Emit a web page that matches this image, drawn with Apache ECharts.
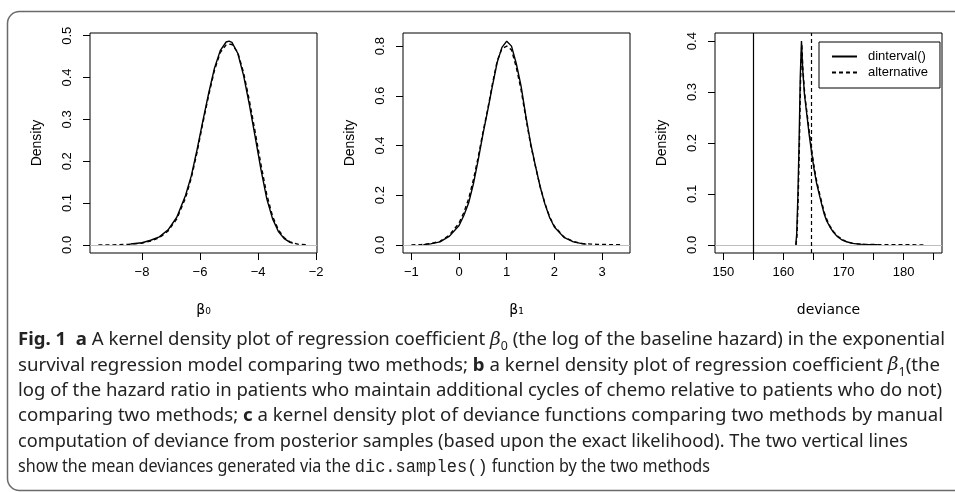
<!DOCTYPE html>
<html>
<head>
<meta charset="utf-8">
<script src="https://cdn.jsdelivr.net/npm/echarts@6/dist/echarts.min.js"></script>
<style>html,body{margin:0;padding:0;background:#fff;}#c{width:955px;height:492px;}</style>
</head>
<body>
<div id="c"></div>
<script>
// ---- data ----
const b0SolidX = [-8.4,-8.0,-7.7,-7.4,-7.1,-6.8,-6.5,-6.3,-6.1,-5.9,-5.7,-5.5,-5.3,-5.1,-5.0,-4.9,-4.7,-4.5,-4.3,-4.1,-3.9,-3.7,-3.5,-3.3,-3.1,-2.9,-2.8];
const b0SolidY = [0.002,0.005,0.011,0.019,0.036,0.066,0.118,0.165,0.228,0.297,0.363,0.423,0.465,0.485,0.487,0.484,0.458,0.405,0.335,0.258,0.180,0.110,0.062,0.032,0.015,0.006,0.004];
const b0AltX = [-9.5,-9.0,-8.5,-8.0,-7.7,-7.4,-7.1,-6.8,-6.5,-6.3,-6.1,-5.9,-5.7,-5.5,-5.3,-5.1,-5.0,-4.9,-4.7,-4.5,-4.3,-4.1,-3.9,-3.7,-3.5,-3.3,-3.1,-2.9,-2.6,-2.26];
const b0AltY = [0.000,0.000,0.001,0.004,0.009,0.017,0.033,0.062,0.112,0.160,0.222,0.292,0.358,0.418,0.460,0.478,0.480,0.479,0.460,0.412,0.345,0.270,0.192,0.120,0.068,0.036,0.017,0.007,0.001,0.000];

const b1SolidX = [-0.75,-0.6,-0.4,-0.2,0.0,0.1,0.2,0.3,0.4,0.5,0.6,0.7,0.8,0.9,1.0,1.1,1.2,1.3,1.4,1.5,1.6,1.7,1.8,1.9,2.0,2.2,2.4,2.6,2.67];
const b1SolidY = [0.001,0.004,0.012,0.035,0.078,0.118,0.168,0.245,0.340,0.445,0.540,0.640,0.735,0.795,0.820,0.800,0.730,0.640,0.520,0.410,0.320,0.235,0.165,0.110,0.072,0.030,0.012,0.004,0.003];
const b1AltX = [-1.0,-0.8,-0.6,-0.4,-0.2,0.0,0.1,0.2,0.3,0.4,0.5,0.6,0.7,0.8,0.9,1.0,1.1,1.2,1.3,1.4,1.5,1.6,1.7,1.8,1.9,2.0,2.2,2.4,2.6,2.9,3.41];
const b1AltY = [0.000,0.001,0.005,0.014,0.040,0.088,0.130,0.185,0.262,0.352,0.452,0.545,0.648,0.740,0.790,0.800,0.785,0.715,0.625,0.512,0.405,0.318,0.235,0.168,0.113,0.075,0.032,0.013,0.005,0.002,0.000];

const devSolidX = [162.05,162.2,162.4,162.6,162.8,163.0,163.2,163.5,163.9,164.3,164.7,165.1,165.5,166.0,166.4,166.8,167.2,167.7,168.3,169.0,169.7,170.5,171.5,172.5,173.5,175.7];
const devSolidY = [0.000,0.020,0.095,0.200,0.330,0.400,0.345,0.295,0.255,0.215,0.180,0.148,0.122,0.097,0.078,0.060,0.047,0.036,0.025,0.016,0.010,0.006,0.003,0.0015,0.001,0.0003];
const devAltX = [162.1,162.25,162.45,162.65,162.85,163.05,163.25,163.55,163.95,164.35,164.75,165.15,165.55,166.05,166.45,166.85,167.25,167.75,168.35,169.05,169.75,170.55,171.55,172.55,173.55,175,177,180,183.3];
const devAltY = [0.000,0.018,0.090,0.195,0.325,0.395,0.342,0.295,0.256,0.217,0.182,0.150,0.124,0.099,0.080,0.062,0.049,0.037,0.026,0.017,0.011,0.006,0.003,0.002,0.001,0.0006,0.0003,0.0001,0.0000];
const devXlim = [150, 185];
const meanDeviance = [155, 164.6];   // dinterval(), alternative

const b0Ticks = [-8,-6,-4,-2];
const b1Ticks = [-1,0,1,2,3];
const devTicks = [150,155,160,165,170,175,180,185];
const devLabels = [150,160,170,180];
const y1Ticks = [0,0.1,0.2,0.3,0.4,0.5];
const y2Ticks = [0,0.2,0.4,0.6,0.8];
const y3Ticks = [0,0.1,0.2,0.3,0.4];

const seriesNames = ['dinterval()', 'alternative'];
const xTitles = ['β₀', 'β₁', 'deviance'];

const captionLines = [
  [['bold','Fig. 1'],['n','  '],['bold','a'],['n',' A kernel density plot of regression coefficient '],['it','β'],['sub','0'],['n',' (the log of the baseline hazard) in the exponential']],
  [['n','survival regression model comparing two methods; '],['bold','b'],['n',' a kernel density plot of regression coefficient '],['it','β'],['sub','1'],['n','(the']],
  [['n','log of the hazard ratio in patients who maintain additional cycles of chemo relative to patients who do not)']],
  [['n','comparing two methods; '],['bold','c'],['n',' a kernel density plot of deviance functions comparing two methods by manual']],
  [['n','computation of deviance from posterior samples (based upon the exact likelihood). The two vertical lines']],
  [['n','show the mean deviances generated via the '],['mono','dic.samples()'],['n',' function by the two methods']]
];
const captionWidths = [927, 922, 924, 925, 890, 692];

// ---- helpers ----
function ext(a, b) { const r = b - a; return [a - 0.04 * r, b + 0.04 * r]; }
function zip(xs, ys) { return xs.map((x, i) => [x, ys[i]]); }
const minus = v => String(Math.round(v * 100) / 100).replace('-', '\u2212');

const xl1 = ext(Math.min(...b0AltX, ...b0SolidX), Math.max(...b0AltX, ...b0SolidX));
const xl2 = ext(Math.min(...b1AltX, ...b1SolidX), Math.max(...b1AltX, ...b1SolidX));
const xl3 = ext(devXlim[0], devXlim[1]);
const yl1 = ext(0, Math.max(...b0SolidY, ...b0AltY));
const yl2 = ext(0, Math.max(...b1SolidY, ...b1AltY));
const yl3 = ext(0, Math.max(...devSolidY, ...devAltY));

const FONT = 'Liberation Sans, Arial, Helvetica, sans-serif';
const lefts = [90, 403, 715];
const grids = lefts.map(l => ({ left: l, top: 33, width: 227, height: 220, show: true, borderColor: '#000', borderWidth: 1, backgroundColor: 'transparent' }));

function xAxis(i, lim, ticks, labels, fmt) {
  return {
    gridIndex: i, type: 'value', min: lim[0], max: lim[1], position: 'bottom',
    axisLine: { show: false, onZero: false }, splitLine: { show: false },
    axisTick: { show: true, length: 7, customValues: ticks, lineStyle: { color: '#000', width: 1 } },
    axisLabel: { customValues: labels, margin: 13, fontSize: 13, color: '#000', fontFamily: FONT, formatter: fmt },
    name: xTitles[i], nameLocation: 'middle', nameGap: 50,
    nameTextStyle: { fontSize: 14, color: '#000', fontFamily: 'DejaVu Sans, Liberation Sans, sans-serif' }
  };
}
function yAxis(i, lim, ticks) {
  return {
    gridIndex: i, type: 'value', min: lim[0], max: lim[1], position: 'left',
    axisLine: { show: false, onZero: false }, splitLine: { show: false },
    axisTick: { show: true, length: 7, customValues: ticks, lineStyle: { color: '#000', width: 1 } },
    axisLabel: { customValues: ticks, rotate: 90, margin: 16, fontSize: 13, color: '#000', fontFamily: FONT, formatter: v => v.toFixed(1) },
    name: 'Density', nameLocation: 'middle', nameGap: 46, nameRotate: 90,
    nameTextStyle: { fontSize: 14, color: '#000', fontFamily: FONT }
  };
}
const zeroLine = { silent: true, symbol: 'none', label: { show: false }, lineStyle: { color: '#bebebe', type: 'solid', width: 1 }, data: [{ yAxis: 0 }], animation: false };

function curve(name, i, xs, ys, dashed, extraMark) {
  return {
    type: 'line', name, xAxisIndex: i, yAxisIndex: i, data: zip(xs, ys),
    showSymbol: false, symbol: 'none', smooth: false, animation: false,
    lineStyle: { color: '#000', width: 1.4, type: dashed ? [4, 3] : 'solid' },
    itemStyle: { color: '#000' },
    markLine: extraMark || undefined
  };
}

// ---- caption via measured rich text ----
const cv = document.createElement('canvas').getContext('2d');
const CAP = { family: 'Noto Sans, Open Sans, sans-serif', size: 18, mono: 'Liberation Mono, DejaVu Sans Mono, monospace', monoSize: 19 };
function fontOf(s) {
  if (s === 'bold') return `bold ${CAP.size}px ${CAP.family}`;
  if (s === 'it') return `italic ${CAP.size}px DejaVu Serif, serif`;
  if (s === 'sub') return `${Math.round(CAP.size * 0.68)}px ${CAP.family}`;
  if (s === 'mono') return `${CAP.monoSize}px ${CAP.mono}`;
  return `${CAP.size}px ${CAP.family}`;
}
function lineWidth(segs) {
  let w = 0;
  segs.forEach(([s, t]) => { cv.font = fontOf(s); w += cv.measureText(t).width; });
  return w;
}
const rich = {
  n: { fontSize: CAP.size, fontFamily: CAP.family, fill: '#222', lineHeight: 26, verticalAlign: 'middle' },
  bold: { fontSize: CAP.size, fontWeight: 'bold', fontFamily: CAP.family, fill: '#222', lineHeight: 26, verticalAlign: 'middle' },
  it: { fontSize: CAP.size, fontStyle: 'italic', fontFamily: 'DejaVu Serif, serif', fill: '#222', lineHeight: 26, verticalAlign: 'middle' },
  sub: { fontSize: Math.round(CAP.size * 0.68), fontFamily: CAP.family, fill: '#222', lineHeight: 16, verticalAlign: 'bottom' },
  mono: { fontSize: CAP.monoSize, fontFamily: CAP.mono, fill: '#222', lineHeight: 26, verticalAlign: 'middle' }
};
const captionGraphics = captionLines.map((segs, k) => {
  const w = lineWidth(segs);
  const text = segs.map(([st, t]) => `{${st}|${t}}`).join('');
  return {
    type: 'text', x: 18, y: 340 + 25.4 * k, scaleX: captionWidths[k] / w, silent: true,
    style: { text, rich, verticalAlign: 'middle', align: 'left' }
  };
});

const chart = echarts.init(document.getElementById('c'), null, { renderer: 'canvas' });
chart.setOption({
  animation: false,
  backgroundColor: '#fff',
  grid: grids,
  xAxis: [
    xAxis(0, xl1, b0Ticks, b0Ticks, minus),
    xAxis(1, xl2, b1Ticks, b1Ticks, minus),
    xAxis(2, xl3, devTicks, devLabels, minus)
  ],
  yAxis: [yAxis(0, yl1, y1Ticks), yAxis(1, yl2, y2Ticks), yAxis(2, yl3, y3Ticks)],
  legend: {
    data: seriesNames, orient: 'vertical', left: 819, top: 42,
    borderColor: '#000', borderWidth: 1, borderRadius: 0, padding: [8, 12, 9, 12],
    itemWidth: 25, itemHeight: 12, itemGap: 3,
    itemStyle: { color: 'rgba(0,0,0,0)', borderWidth: 0 },
    textStyle: { fontSize: 13, color: '#000', fontFamily: FONT, padding: [0, 0, 0, 6] },
    backgroundColor: '#fff'
  },
  series: [
    curve(seriesNames[1], 0, b0AltX, b0AltY, true, zeroLine),
    curve(seriesNames[0], 0, b0SolidX, b0SolidY, false),
    curve(seriesNames[1], 1, b1AltX, b1AltY, true, zeroLine),
    curve(seriesNames[0], 1, b1SolidX, b1SolidY, false),
    curve(seriesNames[1], 2, devAltX, devAltY, true, {
      silent: true, symbol: 'none', label: { show: false }, animation: false,
      data: [
        { yAxis: 0, lineStyle: { color: '#bebebe', type: 'solid', width: 1 } },
        { xAxis: meanDeviance[1], lineStyle: { color: '#000', type: [4, 3], width: 1.2 } }
      ]
    }),
    curve(seriesNames[0], 2, devSolidX, devSolidY, false, {
      silent: true, symbol: 'none', label: { show: false }, animation: false,
      data: [{ xAxis: meanDeviance[0], lineStyle: { color: '#000', type: 'solid', width: 1.2 } }]
    })
  ],
  graphic: [
    { type: 'rect', silent: true, z: 100, shape: { x: 7.5, y: 11.5, width: 1000, height: 479, r: 12 }, style: { fill: 'none', stroke: '#6a6a6a', lineWidth: 1.5 } }
  ].concat(captionGraphics)
});
</script>
</body>
</html>
